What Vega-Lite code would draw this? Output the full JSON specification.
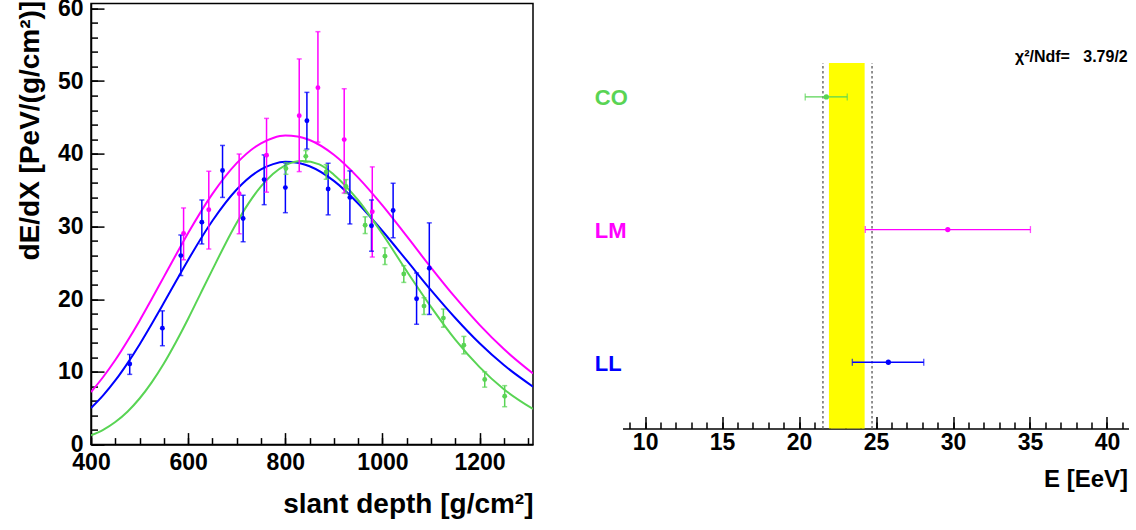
{
  "$schema": "https://vega.github.io/schema/vega-lite/v6.json",
  "background": "white",
  "padding": {"left": 15, "top": -3.4, "right": 0, "bottom": 0},
  "spacing": 89.5,
  "bounds": "flush",
  "config": {
    "font": "Liberation Sans",
    "view": {"stroke": null},
    "axis": {
      "labelFont": "Liberation Sans", "labelFontWeight": "bold", "labelFontSize": 23, "labelColor": "black",
      "titleFont": "Liberation Sans", "titleFontWeight": "bold", "titleColor": "black",
      "domainColor": "black", "domainWidth": 1.5, "tickColor": "black", "tickWidth": 1.5,
      "grid": false, "labelOverlap": false, "labelBound": false, "labelFlush": false
    }
  },
  "datasets": {
    "curves": [
      {"series": "LL", "x": 400, "y": 5.03}, {"series": "LL", "x": 425, "y": 6.77}, {"series": "LL", "x": 450, "y": 8.82}, {"series": "LL", "x": 475, "y": 11.18}, {"series": "LL", "x": 500, "y": 13.78}, {"series": "LL", "x": 525, "y": 16.59}, {"series": "LL", "x": 550, "y": 19.51}, {"series": "LL", "x": 575, "y": 22.47}, {"series": "LL", "x": 600, "y": 25.4}, {"series": "LL", "x": 650, "y": 30.79}, {"series": "LL", "x": 700, "y": 35.09}, {"series": "LL", "x": 750, "y": 37.85}, {"series": "LL", "x": 775, "y": 38.58}, {"series": "LL", "x": 800, "y": 38.89}, {"series": "LL", "x": 825, "y": 38.78}, {"series": "LL", "x": 850, "y": 38.28}, {"series": "LL", "x": 900, "y": 36.27}, {"series": "LL", "x": 950, "y": 33.17}, {"series": "LL", "x": 1000, "y": 29.38}, {"series": "LL", "x": 1050, "y": 25.33}, {"series": "LL", "x": 1100, "y": 21.24}, {"series": "LL", "x": 1150, "y": 17.41}, {"series": "LL", "x": 1200, "y": 13.93}, {"series": "LL", "x": 1250, "y": 10.94}, {"series": "LL", "x": 1310, "y": 7.97},
      {"series": "LM", "x": 400, "y": 7.23}, {"series": "LM", "x": 425, "y": 9.3}, {"series": "LM", "x": 450, "y": 11.63}, {"series": "LM", "x": 475, "y": 14.25}, {"series": "LM", "x": 500, "y": 17.05}, {"series": "LM", "x": 525, "y": 20.03}, {"series": "LM", "x": 550, "y": 23.07}, {"series": "LM", "x": 575, "y": 26.1}, {"series": "LM", "x": 600, "y": 29.09}, {"series": "LM", "x": 650, "y": 34.48}, {"series": "LM", "x": 700, "y": 38.71}, {"series": "LM", "x": 750, "y": 41.45}, {"series": "LM", "x": 775, "y": 42.18}, {"series": "LM", "x": 800, "y": 42.5}, {"series": "LM", "x": 825, "y": 42.39}, {"series": "LM", "x": 850, "y": 41.9}, {"series": "LM", "x": 900, "y": 39.87}, {"series": "LM", "x": 950, "y": 36.73}, {"series": "LM", "x": 1000, "y": 32.9}, {"series": "LM", "x": 1050, "y": 28.66}, {"series": "LM", "x": 1100, "y": 24.35}, {"series": "LM", "x": 1150, "y": 20.24}, {"series": "LM", "x": 1200, "y": 16.47}, {"series": "LM", "x": 1250, "y": 13.14}, {"series": "LM", "x": 1310, "y": 9.78},
      {"series": "CO", "x": 400, "y": 1.28}, {"series": "CO", "x": 425, "y": 2.04}, {"series": "CO", "x": 450, "y": 3.11}, {"series": "CO", "x": 475, "y": 4.53}, {"series": "CO", "x": 500, "y": 6.34}, {"series": "CO", "x": 525, "y": 8.56}, {"series": "CO", "x": 550, "y": 11.15}, {"series": "CO", "x": 575, "y": 14.11}, {"series": "CO", "x": 600, "y": 17.31}, {"series": "CO", "x": 625, "y": 20.7}, {"series": "CO", "x": 650, "y": 24.07}, {"series": "CO", "x": 675, "y": 27.39}, {"series": "CO", "x": 700, "y": 30.5}, {"series": "CO", "x": 725, "y": 33.25}, {"series": "CO", "x": 750, "y": 35.51}, {"series": "CO", "x": 775, "y": 37.25}, {"series": "CO", "x": 800, "y": 38.41}, {"series": "CO", "x": 835, "y": 39.0}, {"series": "CO", "x": 870, "y": 38.55}, {"series": "CO", "x": 900, "y": 37.13}, {"series": "CO", "x": 950, "y": 33.61}, {"series": "CO", "x": 1000, "y": 28.97}, {"series": "CO", "x": 1050, "y": 23.86}, {"series": "CO", "x": 1100, "y": 18.95}, {"series": "CO", "x": 1150, "y": 14.44}, {"series": "CO", "x": 1200, "y": 10.66}, {"series": "CO", "x": 1250, "y": 7.62}, {"series": "CO", "x": 1310, "y": 4.9}
    ],
    "points": [
      {"series": "LL", "x": 479.7, "y": 11.08, "lo": 9.66, "hi": 12.4},
      {"series": "LL", "x": 547, "y": 16.02, "lo": 13.6, "hi": 18.4},
      {"series": "LL", "x": 584.9, "y": 26.0, "lo": 23.25, "hi": 28.83},
      {"series": "LL", "x": 628.2, "y": 30.6, "lo": 27.6, "hi": 33.65},
      {"series": "LL", "x": 670.8, "y": 37.7, "lo": 34.0, "hi": 41.15},
      {"series": "LL", "x": 713.2, "y": 31.1, "lo": 27.9, "hi": 34.3},
      {"series": "LL", "x": 756.5, "y": 36.45, "lo": 33.0, "hi": 39.85},
      {"series": "LL", "x": 800.2, "y": 35.35, "lo": 31.9, "hi": 38.75},
      {"series": "LL", "x": 844.5, "y": 44.55, "lo": 40.65, "hi": 48.45},
      {"series": "LL", "x": 888.2, "y": 35.15, "lo": 31.6, "hi": 38.7},
      {"series": "LL", "x": 933, "y": 34.0, "lo": 30.35, "hi": 37.65},
      {"series": "LL", "x": 977.5, "y": 30.1, "lo": 26.6, "hi": 33.65},
      {"series": "LL", "x": 1022, "y": 32.2, "lo": 28.45, "hi": 35.95},
      {"series": "LL", "x": 1070.3, "y": 20.07, "lo": 16.55, "hi": 23.6},
      {"series": "LL", "x": 1096.5, "y": 24.25, "lo": 17.9, "hi": 30.5},
      {"series": "LM", "x": 590.6, "y": 29.03, "lo": 25.42, "hi": 32.55},
      {"series": "LM", "x": 642.5, "y": 32.3, "lo": 26.9, "hi": 37.6},
      {"series": "LM", "x": 705, "y": 34.5, "lo": 29.0, "hi": 39.97},
      {"series": "LM", "x": 761.4, "y": 39.8, "lo": 34.72, "hi": 44.87},
      {"series": "LM", "x": 828.7, "y": 45.25, "lo": 37.55, "hi": 53.05},
      {"series": "LM", "x": 867.2, "y": 49.1, "lo": 41.6, "hi": 56.8},
      {"series": "LM", "x": 921.3, "y": 41.95, "lo": 34.6, "hi": 48.95},
      {"series": "LM", "x": 979.1, "y": 32.02, "lo": 25.8, "hi": 38.2},
      {"series": "CO", "x": 801.3, "y": 37.98, "lo": 37.18, "hi": 38.78},
      {"series": "CO", "x": 842.2, "y": 39.65, "lo": 38.85, "hi": 40.45},
      {"series": "CO", "x": 884.2, "y": 37.5, "lo": 36.5, "hi": 38.5},
      {"series": "CO", "x": 925, "y": 35.5, "lo": 34.55, "hi": 36.45},
      {"series": "CO", "x": 964.4, "y": 30.18, "lo": 29.03, "hi": 31.33},
      {"series": "CO", "x": 1005.2, "y": 25.92, "lo": 24.77, "hi": 27.07},
      {"series": "CO", "x": 1044, "y": 23.46, "lo": 22.31, "hi": 24.61},
      {"series": "CO", "x": 1085.6, "y": 19.05, "lo": 17.9, "hi": 20.2},
      {"series": "CO", "x": 1125.5, "y": 17.4, "lo": 16.15, "hi": 18.65},
      {"series": "CO", "x": 1167.6, "y": 13.68, "lo": 12.48, "hi": 14.88},
      {"series": "CO", "x": 1210.6, "y": 8.95, "lo": 7.9, "hi": 10.0},
      {"series": "CO", "x": 1251.7, "y": 6.66, "lo": 5.21, "hi": 8.11}
    ],
    "fits": [
      {"series": "CO", "idx": 3, "e": 21.77, "lo": 20.4, "hi": 23.13},
      {"series": "LM", "idx": 2, "e": 29.66, "lo": 24.3, "hi": 35.03},
      {"series": "LL", "idx": 1, "e": 25.8, "lo": 23.46, "hi": 28.1}
    ],
    "band": [{"lo": 21.94, "hi": 24.26}],
    "limits": [{"e": 21.55}, {"e": 24.74}],
    "stat": [{"label": "χ²/Ndf=\u00a0\u00a0\u00a03.79/2"}]
  },
  "hconcat": [
    {
      "width": 442,
      "height": 441,
      "view": {"stroke": "black", "strokeWidth": 1.5},
      "resolve": {"axis": {"x": "independent", "y": "independent"}},
      "layer": [
        {
          "data": {"name": "curves"},
          "mark": {"type": "line", "strokeWidth": 2, "interpolate": "monotone", "clip": true},
          "encoding": {
            "x": {
              "field": "x", "type": "quantitative", "title": "slant depth [g/cm²]",
              "scale": {"domain": [400, 1310], "nice": false, "zero": false},
              "axis": {
                "orient": "bottom",
                "values": [400, 600, 800, 1000, 1200],
                "format": "d",
                "tickSize": -12,
                "labelPadding": 18.5,
                "titleFontSize": 28, "titleAnchor": "end", "titleAlign": "right", "titleBaseline": "top",
                "titleX": 442, "titleY": 45.5
              }
            },
            "y": {
              "field": "y", "type": "quantitative", "title": "dE/dX [PeV/(g/cm²)]",
              "scale": {"domain": [0, 60.66], "nice": false, "zero": false},
              "axis": {
                "orient": "left",
                "values": [0, 10, 20, 30, 40, 50, 60],
                "format": "d",
                "tickSize": -13,
                "labelPadding": 21,
                "titleFontSize": 28, "titleAngle": 270, "titleAnchor": "end", "titleAlign": "right", "titleBaseline": "bottom",
                "titleX": -47, "titleY": -3.3
              }
            },
            "color": {"field": "series", "type": "nominal", "scale": {"domain": ["LL", "LM", "CO"], "range": ["#0000ff", "#ff00ff", "#59d454"]}, "legend": null}
          }
        },
        {
          "data": {"name": "points"},
          "mark": {"type": "rule", "strokeWidth": 1.5},
          "encoding": {
            "x": {
              "field": "x", "type": "quantitative", "title": null,
              "axis": {
                "orient": "top", "offset": -441, "domain": false, "labels": false, "title": null,
                "values": [400, 450, 500, 550, 600, 650, 700, 750, 800, 850, 900, 950, 1000, 1050, 1100, 1150, 1200, 1250, 1300],
                "tickSize": 7
              }
            },
            "y": {
              "field": "lo", "type": "quantitative", "title": null,
              "axis": {
                "orient": "right", "offset": -442, "domain": false, "labels": false, "title": null,
                "values": [0, 2, 4, 6, 8, 10, 12, 14, 16, 18, 20, 22, 24, 26, 28, 30, 32, 34, 36, 38, 40, 42, 44, 46, 48, 50, 52, 54, 56, 58, 60],
                "tickSize": 6.5
              }
            },
            "y2": {"field": "hi"},
            "color": {"field": "series", "type": "nominal"}
          }
        },
        {
          "data": {"name": "points"},
          "mark": {"type": "tick", "orient": "horizontal", "size": 5, "thickness": 1.5},
          "encoding": {
            "x": {"field": "x", "type": "quantitative", "axis": null},
            "y": {"field": "lo", "type": "quantitative", "axis": null},
            "color": {"field": "series", "type": "nominal"}
          }
        },
        {
          "data": {"name": "points"},
          "mark": {"type": "tick", "orient": "horizontal", "size": 5, "thickness": 1.5},
          "encoding": {
            "x": {"field": "x", "type": "quantitative", "axis": null},
            "y": {"field": "hi", "type": "quantitative", "axis": null},
            "color": {"field": "series", "type": "nominal"}
          }
        },
        {
          "data": {"name": "points"},
          "mark": {"type": "circle", "size": 24, "opacity": 1},
          "encoding": {
            "x": {"field": "x", "type": "quantitative", "axis": null},
            "y": {"field": "y", "type": "quantitative", "axis": null},
            "color": {"field": "series", "type": "nominal"}
          }
        }
      ]
    },
    {
      "width": 506,
      "height": 425,
      "resolve": {"axis": {"x": "independent", "y": "independent"}},
      "layer": [
        {
          "data": {"name": "band"},
          "mark": {"type": "rect", "color": "#ffff00"},
          "encoding": {
            "x": {
              "field": "lo", "type": "quantitative", "title": "E [EeV]",
              "scale": {"domain": [8.53, 41.4], "nice": false, "zero": false},
              "axis": {
                "orient": "bottom",
                "values": [10, 15, 20, 25, 30, 35, 40],
                "format": "d",
                "tickSize": -12,
                "labelPadding": 15,
                "titleFontSize": 24, "titleAnchor": "end", "titleAlign": "right", "titleBaseline": "top",
                "titleX": 505, "titleY": 39
              }
            },
            "x2": {"field": "hi"},
            "y": {"datum": 0.5, "type": "quantitative", "scale": {"domain": [0.5, 3.703], "nice": false, "zero": false}, "axis": null},
            "y2": {"datum": 3.255}
          }
        },
        {
          "data": {"name": "limits"},
          "mark": {"type": "rule", "color": "#6e6e6e", "strokeWidth": 1.5, "strokeDash": [2.5, 2.5]},
          "encoding": {
            "x": {
              "field": "e", "type": "quantitative", "title": null,
              "axis": {
                "orient": "top", "offset": -425, "domain": false, "labels": false, "title": null,
                "values": [9, 10, 11, 12, 13, 14, 15, 16, 17, 18, 19, 20, 21, 22, 23, 24, 25, 26, 27, 28, 29, 30, 31, 32, 33, 34, 35, 36, 37, 38, 39, 40, 41],
                "tickSize": 6.7
              }
            },
            "y": {"datum": 0.5, "type": "quantitative", "axis": null},
            "y2": {"datum": 3.255}
          }
        },
        {
          "data": {"name": "fits"},
          "mark": {"type": "rule", "strokeWidth": 1.3},
          "encoding": {
            "x": {"field": "lo", "type": "quantitative", "axis": null},
            "x2": {"field": "hi"},
            "y": {"field": "idx", "type": "quantitative", "axis": null},
            "color": {"field": "series", "type": "nominal", "scale": {"domain": ["LL", "LM", "CO"], "range": ["#0000ff", "#ff00ff", "#59d454"]}, "legend": null}
          }
        },
        {
          "data": {"name": "fits"},
          "mark": {"type": "tick", "orient": "vertical", "size": 7, "thickness": 1.3},
          "encoding": {
            "x": {"field": "lo", "type": "quantitative", "axis": null},
            "y": {"field": "idx", "type": "quantitative", "axis": null},
            "color": {"field": "series", "type": "nominal"}
          }
        },
        {
          "data": {"name": "fits"},
          "mark": {"type": "tick", "orient": "vertical", "size": 7, "thickness": 1.3},
          "encoding": {
            "x": {"field": "hi", "type": "quantitative", "axis": null},
            "y": {"field": "idx", "type": "quantitative", "axis": null},
            "color": {"field": "series", "type": "nominal"}
          }
        },
        {
          "data": {"name": "fits"},
          "mark": {"type": "circle", "size": 28, "opacity": 1},
          "encoding": {
            "x": {"field": "e", "type": "quantitative", "axis": null},
            "y": {"field": "idx", "type": "quantitative", "axis": null},
            "color": {"field": "series", "type": "nominal"}
          }
        },
        {
          "data": {"name": "fits"},
          "mark": {"type": "text", "font": "Liberation Sans", "fontWeight": "bold", "fontSize": 22, "align": "left", "baseline": "middle", "dy": 1.5},
          "encoding": {
            "x": {"datum": 6.73, "type": "quantitative", "axis": null},
            "y": {"field": "idx", "type": "quantitative", "axis": null},
            "text": {"field": "series"},
            "color": {"field": "series", "type": "nominal"}
          }
        },
        {
          "data": {"name": "stat"},
          "mark": {"type": "text", "font": "Liberation Sans", "fontWeight": "bold", "fontSize": 16, "align": "right", "baseline": "alphabetic", "color": "black"},
          "encoding": {
            "x": {"datum": 41.35, "type": "quantitative", "axis": null},
            "y": {"datum": 3.26, "type": "quantitative", "axis": null},
            "text": {"field": "label"}
          }
        }
      ]
    }
  ]
}
